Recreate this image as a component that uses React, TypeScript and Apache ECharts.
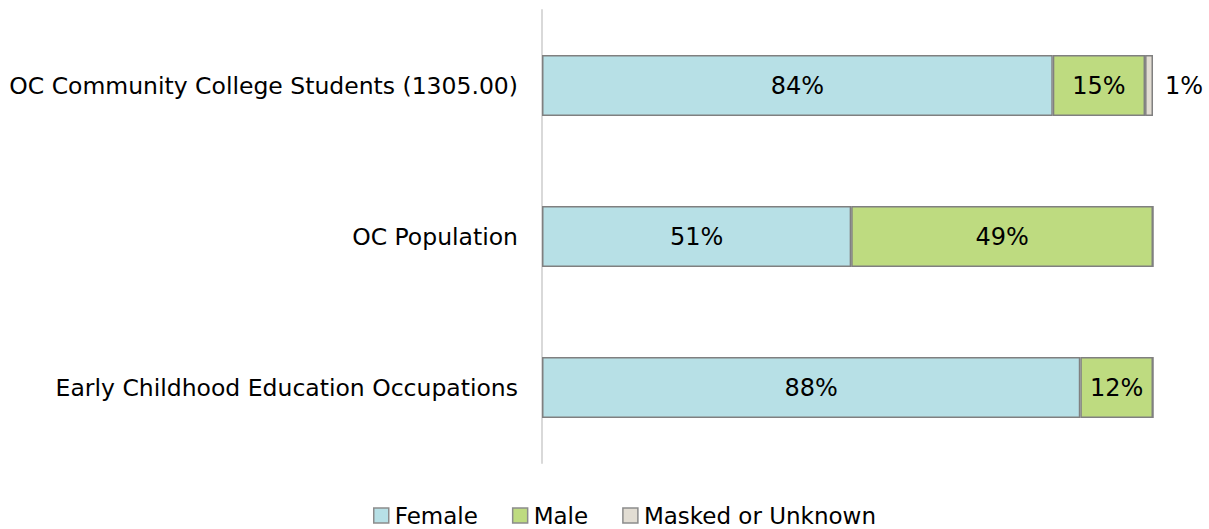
import React, { useEffect, useRef } from "react";
import * as echarts from "echarts";

const categories = [
  "OC Community College Students (1305.00)",
  "OC Population",
  "Early Childhood Education Occupations",
];
const female = [83.6, 50.6, 88.1];
const male = [15.1, 49.4, 11.9];
const masked = [1.3, 0, 0];
const seriesNames = ["Female", "Male", "Masked or Unknown"];
const colors = ["#b7e0e6", "#bedb80", "#e2ddd3"];

const FONT = "DejaVu Sans";

export default function App() {
  const ref = useRef<HTMLDivElement>(null);
  useEffect(() => {
    if (!ref.current) return;
    const chart = echarts.init(ref.current, null, { renderer: "svg" });
    const fmt = (p: any) => (p.value > 0 ? Math.round(p.value) + "%" : "");
    const mk = (name: string, data: number[], color: string, pos: string) => ({
      name,
      type: "bar",
      stack: "total",
      data,
      barWidth: 61,
      itemStyle: { color, borderColor: "#808080", borderWidth: 1.5 },
      label: {
        show: true,
        position: pos,
        formatter: fmt,
        color: "#000",
        fontSize: 24,
        fontFamily: FONT,
        distance: 12,
      },
    });
    chart.setOption({
      animation: false,
      textStyle: { fontFamily: FONT },
      grid: { left: 542, right: 56, top: 10, bottom: 66, containLabel: false },
      legend: {
        bottom: -3,
        left: 368,
        itemWidth: 15,
        itemHeight: 15,
        itemGap: 34,
        icon: "rect",
        textStyle: { fontSize: 23, color: "#000", fontFamily: FONT, padding: [0, 0, 0, 1] },
        data: seriesNames.map((n, i) => ({
          name: n,
          itemStyle: { color: colors[i], borderColor: "#8c8c8c", borderWidth: 1.5 },
        })),
      },
      xAxis: {
        type: "value",
        min: 0,
        max: 100,
        show: false,
      },
      yAxis: {
        type: "category",
        inverse: true,
        data: categories,
        axisTick: { show: false },
        axisLine: { show: true, lineStyle: { color: "#d9d9d9", width: 2 } },
        axisLabel: { color: "#000", fontSize: 23.5, fontFamily: FONT, margin: 24 },
      },
      series: [
        mk(seriesNames[0], female, colors[0], "inside"),
        mk(seriesNames[1], male, colors[1], "inside"),
        mk(seriesNames[2], masked, colors[2], "right"),
      ],
    });
    return () => chart.dispose();
  }, []);
  return (
    <div
      ref={ref}
      style={{ position: "absolute", left: 0, top: 0, width: 1209, height: 529, background: "#fff" }}
    />
  );
}
